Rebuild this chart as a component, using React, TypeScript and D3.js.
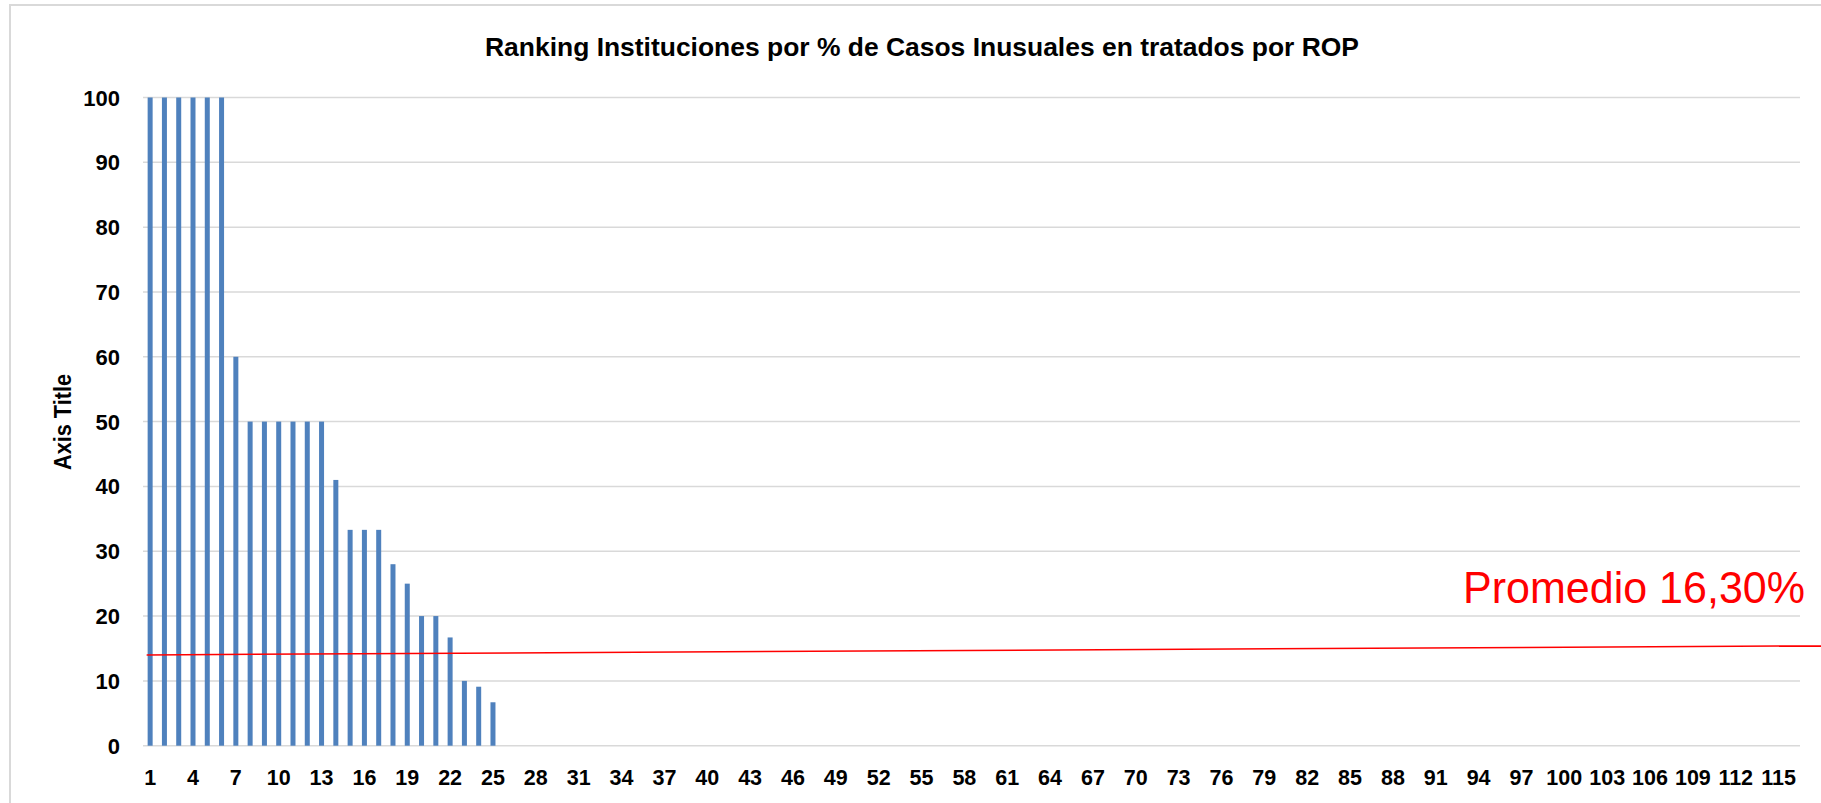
import React from "react";
import * as d3 from "d3";

const title = "Ranking Instituciones por % de Casos Inusuales en tratados por ROP";
const yAxisTitle = "Axis Title";
const categories: number[] = Array.from({ length: 116 }, (_, i) => i + 1);
const nonZeroValues: number[] = [
  100, 100, 100, 100, 100, 100, 60, 50, 50, 50, 50, 50, 50, 41, 33.3, 33.3, 33.3,
  28, 25, 20, 20, 16.7, 10, 9.1, 6.7,
];
const values: number[] = categories.map((c, i) => (i < nonZeroValues.length ? nonZeroValues[i] : 0));
const yTicks: number[] = [0, 10, 20, 30, 40, 50, 60, 70, 80, 90, 100];
const xTickLabels: number[] = categories.filter((c) => (c - 1) % 3 === 0);
const promedioLabel = "Promedio 16,30%";
const promedioStartValue = 14.0;
const promedioEndValue = 15.4;

const W = 1821;
const H = 803;
const plotLeft = 143;
const plotRight = 1800;
const plotTop = 97.5;
const plotBottom = 745.7;

export default function App() {
  const x = d3
    .scaleBand<number>()
    .domain(categories)
    .range([plotLeft, plotRight])
    .paddingInner(0.65)
    .paddingOuter(0.325);
  const y = d3.scaleLinear().domain([0, 100]).range([plotBottom, plotTop]);
  const bw = x.bandwidth();
  const line = d3.line<[number, number]>().x((d) => d[0]).y((d) => d[1]);
  const lineStartX = (x(1) as number) - 1;
  const linePath = line([
    [lineStartX, y(promedioStartValue)],
    [W, y(promedioEndValue)],
  ]) as string;

  return (
    <svg
      width={W}
      height={H}
      style={{ position: "absolute", left: 0, top: 0, background: "#fff" }}
      fontFamily="'Liberation Sans', Arial, sans-serif"
    >
      <rect x={10} y={5} width={1900} height={900} fill="#fff" stroke="#d9d9d9" strokeWidth={2} />
      <text
        x={922}
        y={56}
        textAnchor="middle"
        fontSize={26}
        fontWeight="bold"
        fill="#000"
        textLength={874}
        lengthAdjust="spacingAndGlyphs"
      >
        {title}
      </text>
      {yTicks.map((t) => (
        <g key={t}>
          <line x1={plotLeft} x2={plotRight} y1={y(t)} y2={y(t)} stroke="#d9d9d9" strokeWidth={1.5} />
          <text
            x={120}
            y={y(t) + 8}
            textAnchor="end"
            fontSize={22}
            fontWeight="bold"
            fill="#000"
          >
            {t}
          </text>
        </g>
      ))}
      <text
        transform={`translate(71,422) rotate(-90)`}
        textAnchor="middle"
        fontSize={23}
        fontWeight="bold"
        fill="#000"
        textLength={96}
        lengthAdjust="spacingAndGlyphs"
      >
        {yAxisTitle}
      </text>
      {categories.map((c, i) =>
        values[i] > 0 ? (
          <rect
            key={c}
            x={x(c) as number}
            y={y(values[i])}
            width={bw}
            height={y(0) - y(values[i])}
            fill="#4F81BD"
          />
        ) : null
      )}
      {xTickLabels.map((c) => (
        <text
          key={c}
          x={(x(c) as number) + bw / 2}
          y={785}
          textAnchor="middle"
          fontSize={21.5}
          fontWeight="bold"
          fill="#000"
        >
          {c}
        </text>
      ))}
      <path d={linePath} stroke="#ff0000" strokeWidth={1.5} fill="none" />
      <text
        x={1463}
        y={603}
        fontSize={44}
        fill="#ff0000"
        textLength={342}
        lengthAdjust="spacingAndGlyphs"
      >
        {promedioLabel}
      </text>
    </svg>
  );
}
